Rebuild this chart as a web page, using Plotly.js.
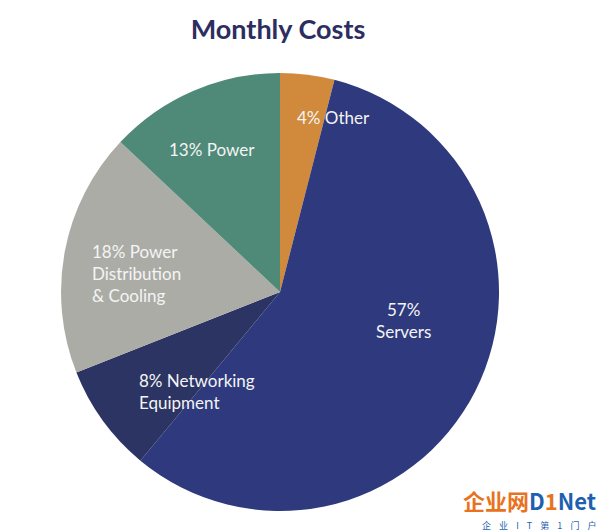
<!DOCTYPE html>
<html>
<head>
<meta charset="utf-8">
<script src="https://cdn.plot.ly/plotly-3.0.1.min.js"></script>
<style>html,body{margin:0;padding:0;background:#fff;}#chart{width:600px;height:532px;}</style>
</head>
<body>
<div id="chart"></div>
<script>
const categories = ["Other", "Servers", "Networking Equipment", "Power Distribution & Cooling", "Power"];
const values = [4, 57, 8, 18, 13];
const labelTexts = ["4% Other", "57%<br>Servers", "8% Networking<br>Equipment", "18% Power<br>Distribution<br>& Cooling", "13% Power"];
const colors = ["#D18A3B", "#2E3A7D", "#2B3463", "#ACACA7", "#4F8A79"];

const font = "Lato, 'Open Sans', sans-serif";

const trace = {
  type: "pie",
  labels: categories,
  values: values,
  sort: false,
  direction: "clockwise",
  rotation: 0,
  textinfo: "none",
  hoverinfo: "label+percent",
  marker: {colors: colors, line: {width: 0}},
  domain: {x: [0.1017, 0.8317], y: [0.0395, 0.8628]},
  showlegend: false
};

const annPos = [
  {x: 333/600, y: 1-118/532, align: "center"},
  {x: 403/600, y: 1-320/532, align: "center"},
  {x: 137/600, y: 1-391/532, align: "left", xanchor: "left"},
  {x: 90/600, y: 1-273/532, align: "left", xanchor: "left"},
  {x: 212/600, y: 1-149/532, align: "center"}
];

const annotations = labelTexts.map((t, i) => ({
  text: t,
  xref: "paper", yref: "paper",
  x: annPos[i].x, y: annPos[i].y,
  xanchor: annPos[i].xanchor || "center", yanchor: "middle",
  align: annPos[i].align,
  showarrow: false,
  font: {family: font, size: 17, color: "#F4F4F4"}
}));

annotations.push({
  text: "<b><span style='color:#E8731E'>企业网</span><span style='color:#1E5FB0'>D</span><span style='color:#E8731E'>1</span><span style='color:#1E5FB0'>Net</span></b>",
  xref: "paper", yref: "paper", x: 598/600, y: 1-500/532,
  xanchor: "right", yanchor: "middle", showarrow: false,
  font: {family: "'Noto Sans CJK SC', sans-serif", size: 22}
});
const sp = "\u00A0\u00A0\u00A0\u00A0";
annotations.push({
  text: ["企", "业", "I", "T", "第", "1", "门", "户"].join(sp),
  xref: "paper", yref: "paper", x: 598/600, y: 1-525/532,
  xanchor: "right", yanchor: "middle", showarrow: false,
  font: {family: "'Noto Sans CJK SC', sans-serif", size: 9, color: "#1E5FB0"}
});

const layout = {
  width: 600, height: 532,
  margin: {l: 0, r: 0, t: 0, b: 0},
  paper_bgcolor: "#ffffff",
  title: {
    text: "<b>Monthly Costs</b>",
    font: {family: font, size: 27, color: "#2C2E5F"},
    x: 278/600, xanchor: "center",
    y: 1-30/532, yanchor: "middle"
  },
  annotations: annotations
};

Plotly.newPlot("chart", [trace], layout, {displayModeBar: false, staticPlot: true});
</script>
</body>
</html>
